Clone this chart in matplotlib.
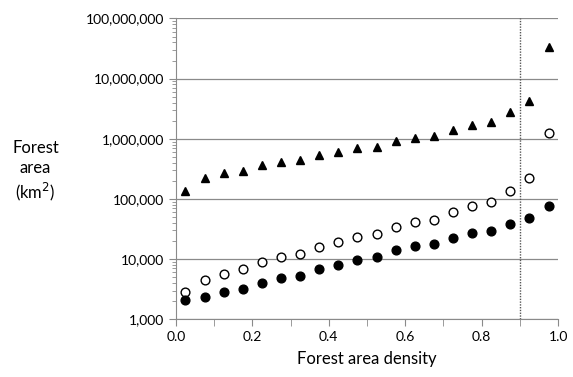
import matplotlib
matplotlib.use("Agg")
import matplotlib.pyplot as plt
from matplotlib.ticker import FuncFormatter, LogLocator, MultipleLocator
import numpy as np

plt.rcParams["font.family"] = ["Lato", "DejaVu Sans"]

density = [0.025, 0.075, 0.125, 0.175, 0.225, 0.275, 0.325, 0.375, 0.425, 0.475,
           0.525, 0.575, 0.625, 0.675, 0.725, 0.775, 0.825, 0.875, 0.925, 0.975]

triangles = [135e3, 220e3, 266e3, 290e3, 361e3, 410e3, 438e3, 542e3, 608e3, 709e3,
             736e3, 916e3, 1.05e6, 1.11e6, 1.41e6, 1.69e6, 1.89e6, 2.74e6, 4.18e6, 33.3e6]

open_circles = [2.88e3, 4.55e3, 5.72e3, 6.85e3, 8.95e3, 10.8e3, 12.3e3, 16.1e3, 19.0e3, 23.0e3,
                26.1e3, 34.1e3, 41.3e3, 45.1e3, 60.6e3, 75.3e3, 89.8e3, 135e3, 220e3, 1.23e6]

filled_circles = [2.09e3, 2.38e3, 2.81e3, 3.15e3, 4.01e3, 4.80e3, 5.30e3, 6.85e3, 7.98e3, 9.66e3,
                  10.7e3, 14.0e3, 16.3e3, 17.6e3, 22.4e3, 27.1e3, 29.6e3, 38.7e3, 47.6e3, 77.1e3]

threshold = 0.9

fig = plt.figure(figsize=(5.73, 3.77), dpi=100)
ax = fig.add_axes([0.307, 0.153, 0.667, 0.798])

ax.set_yscale("log")
ax.set_ylim(1e3, 1e8)
ax.set_xlim(0, 1)

ax.grid(axis="y", which="major", color="#8a8a8a", lw=0.9)
ax.set_axisbelow(True)

ax.plot(density, triangles, ls="none", marker="^", ms=6, color="black", zorder=3)
ax.plot(density, open_circles, ls="none", marker="o", ms=6.3, mfc="white", mec="black",
        mew=1, zorder=3)
ax.plot(density, filled_circles, ls="none", marker="o", ms=6.3, color="black", zorder=3)

ax.axvline(threshold, color="#555555", lw=1, ls=(0, (1, 1)), zorder=2)

ax.spines["top"].set_visible(False)
ax.spines["right"].set_visible(False)
for s in ("left", "bottom"):
    ax.spines[s].set_color("#8a8a8a")

ax.xaxis.set_major_locator(MultipleLocator(0.2))
ax.xaxis.set_minor_locator(MultipleLocator(0.1))
ax.xaxis.set_major_formatter(FuncFormatter(lambda v, p: f"{v:.1f}"))
ax.yaxis.set_major_locator(LogLocator(base=10, numticks=10))
ax.yaxis.set_minor_locator(LogLocator(base=10, subs=np.arange(2, 10), numticks=20))
ax.yaxis.set_major_formatter(FuncFormatter(lambda v, p: f"{int(round(v)):,}"))

ax.tick_params(axis="both", which="both", colors="#8a8a8a", labelcolor="black",
               labelsize=10)
ax.tick_params(axis="both", which="major", length=5)
ax.tick_params(axis="both", which="minor", length=3)
ax.tick_params(axis="x", which="minor", length=5)

ax.set_xlabel("Forest area density", fontsize=12, labelpad=6)
fig.text(0.062, 0.545, "Forest\narea\n(km$^2$)", fontsize=12, ha="center", va="center",
         linespacing=1.3)

fig.savefig("out.png", dpi=100)
